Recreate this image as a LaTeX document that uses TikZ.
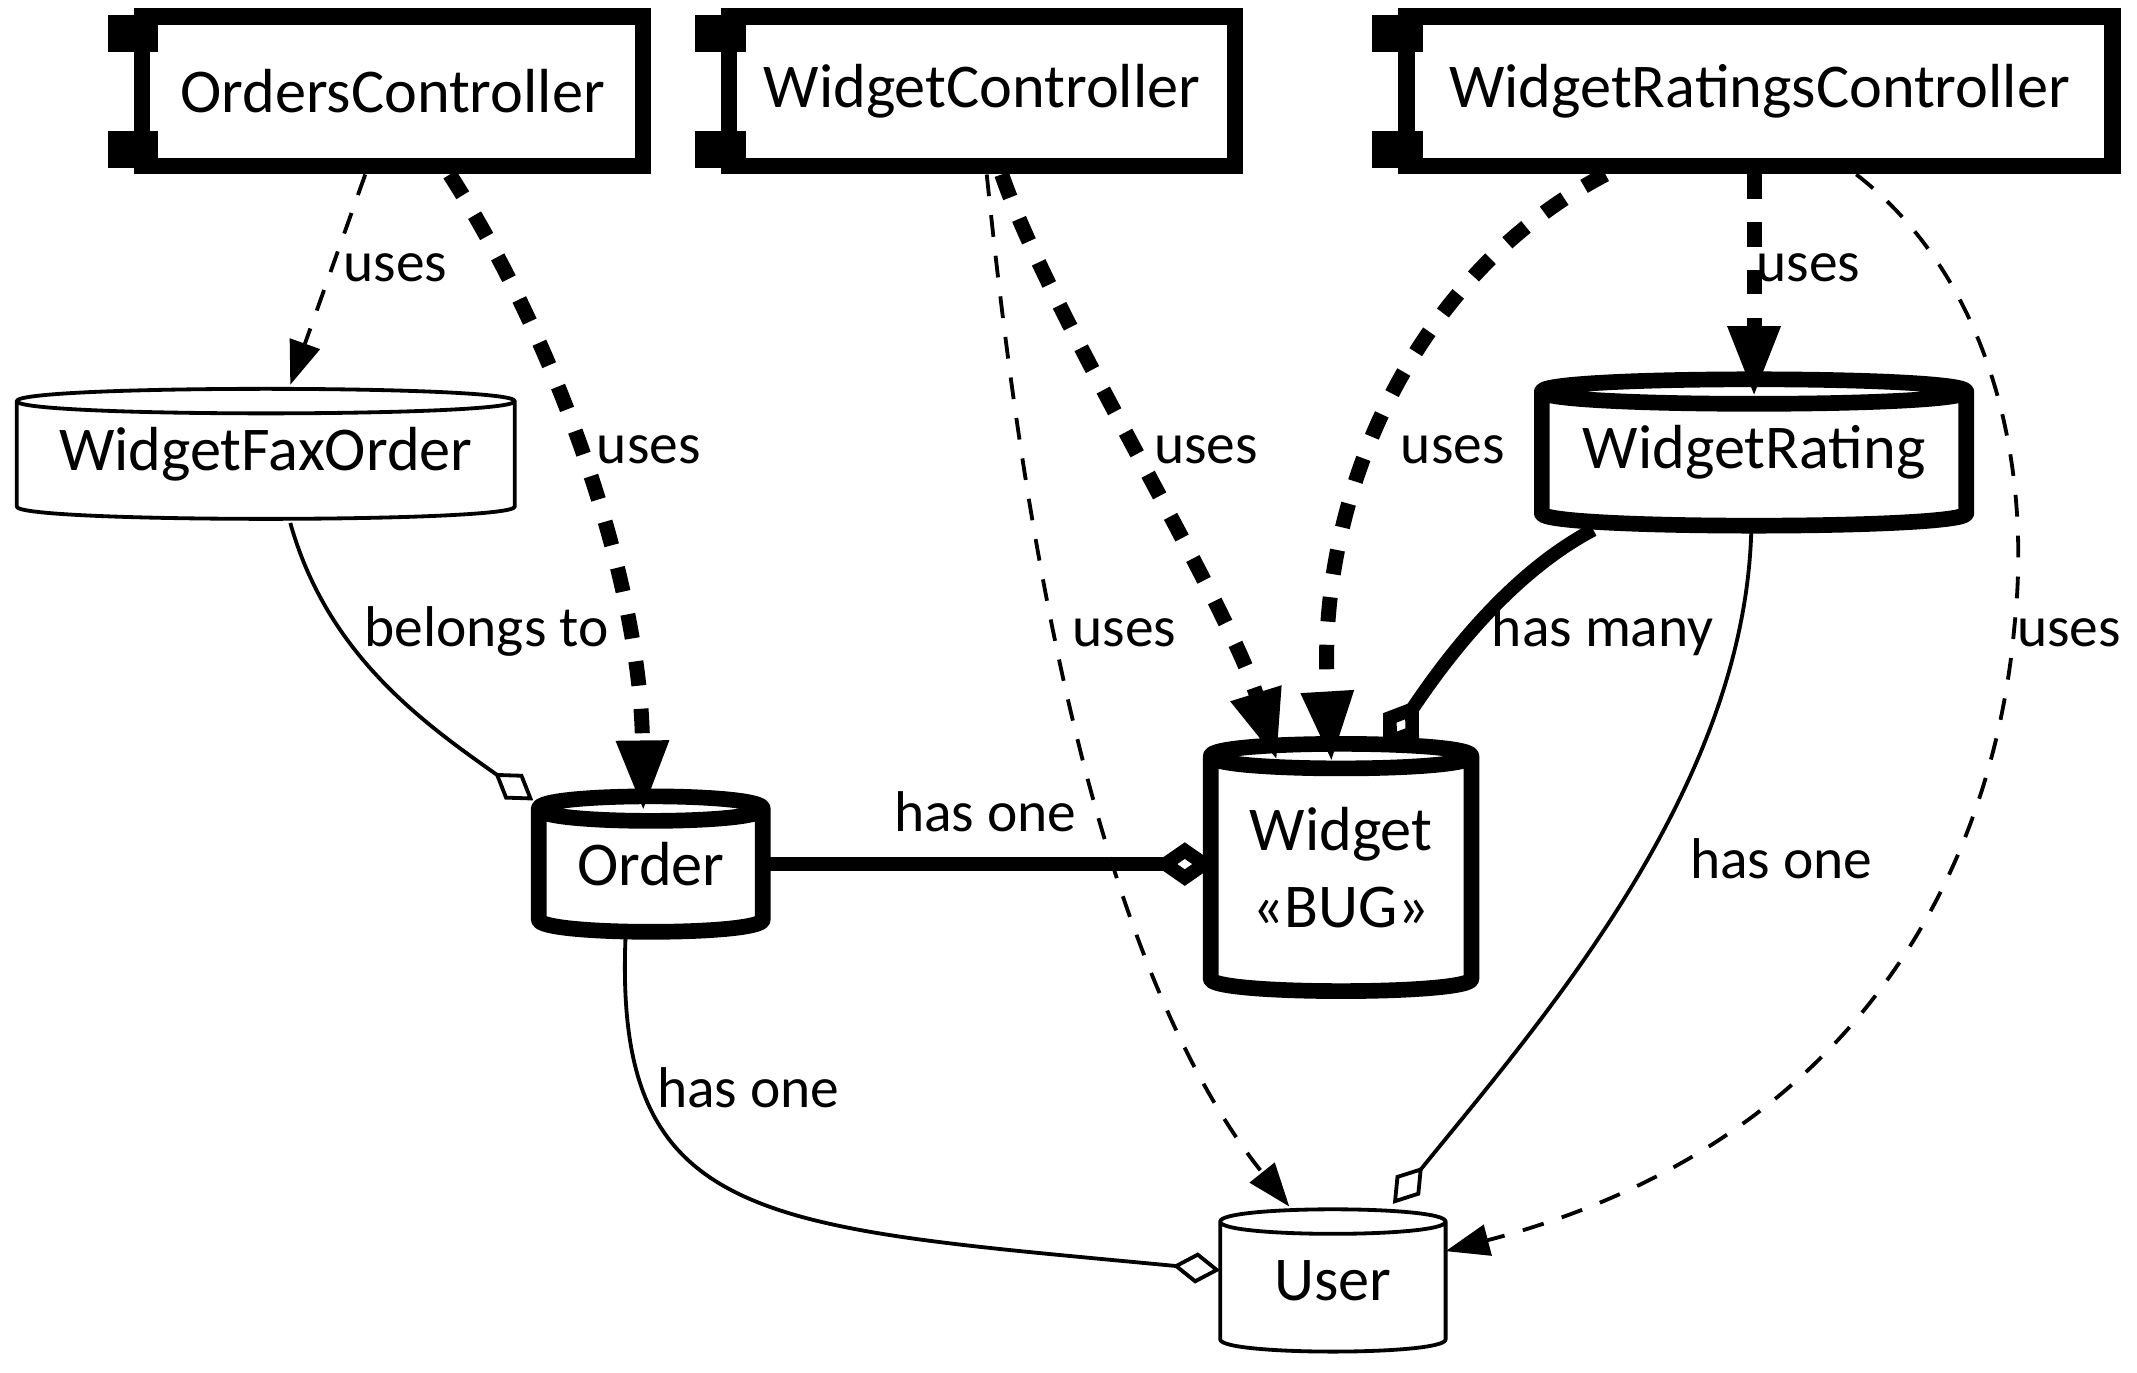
\documentclass[tikz,border=0pt]{standalone}
\usepackage{fontspec}
\setmainfont{Carlito}
\usetikzlibrary{arrows.meta}
\newcommand\nodefont{\fontsize{13}{16}\selectfont}
\newcommand\lblfont{\fontsize{12}{14}\selectfont}
\newlength\capd \setlength\capd{1.2mm}
\newlength\capdd \setlength\capdd{2.4mm}
% cilindro disegnato intorno a un nodo
\newcommand\dbshape[2]{%
  \draw[#1] ([yshift=-\capd]#2.north west)
    .. controls (#2.north west) and (#2.north east) .. ([yshift=-\capd]#2.north east)
    -- ([yshift=\capd]#2.south east)
    .. controls (#2.south east) and (#2.south west) .. ([yshift=\capd]#2.south west)
    -- cycle
    ([yshift=-\capd]#2.north west)
    .. controls ([yshift=-\capdd]#2.north west) and ([yshift=-\capdd]#2.north east)
    .. ([yshift=-\capd]#2.north east);}
% linguette del componente
\newcommand\comptabs[1]{%
  \fill ([shift={(-1.9mm,-0.5mm)}]#1.north west) rectangle ++(3.7mm,-2.7mm);
  \fill ([shift={(-1.9mm,0.5mm)}]#1.south west) rectangle ++(3.7mm,2.7mm);}
\tikzset{
  % controller
  comp/.style={draw, line width=1.2mm, fill=white, minimum height=1.1cm,
    inner sep=0pt, font=\nodefont},
  % modello (cilindro)
  dbnode/.style={inner sep=0pt, align=center, font=\nodefont},
  dbthin/.style={line width=0.28mm, line join=round},
  dbthick/.style={line width=1.15mm, line join=round},
  % dipendenze
  useslink/.style={-{Triangle[length=3.2mm, width=2.3mm]}, line width=0.28mm,
    dash pattern=on 1.6mm off 1.4mm},
  usesbold/.style={-{Triangle[length=5.2mm, width=3.6mm]}, line width=1.1mm,
    dash pattern=on 1.8mm off 1.7mm},
  % associazioni
  hasthin/.style={-{Diamond[open, length=3.5mm, width=2.3mm]}, line width=0.28mm},
  hasbold/.style={-{Diamond[open, length=4.6mm, width=3.2mm]}, line width=1mm},
  % etichette
  lbl/.style={font=\lblfont, text height=1.5ex, text depth=0.5ex, inner sep=0pt},
}
\begin{document}
\begin{tikzpicture}
  \fill[white] (0,0) rectangle (15.68,-10.07);
  % controller
  \node[comp, minimum width=3.68cm] (oc) at (2.88,-0.67) {OrdersController};
  \node[comp, minimum width=3.71cm] (wc) at (7.205,-0.67) {WidgetController};
  \node[comp, minimum width=5.18cm] (wrc) at (12.91,-0.67) {WidgetRatingsController};
  \foreach \c in {oc,wc,wrc} { \comptabs{\c} }
  % modelli
  \node[dbnode, minimum width=3.64cm, minimum height=1cm] (wfo) at (1.95,-3.33) {WidgetFaxOrder};
  \node[dbnode, minimum width=1.63cm, minimum height=1.04cm] (order) at (4.775,-6.34) {Order};
  \node[dbnode, minimum width=1.9cm, minimum height=1.86cm] (widget) at (9.84,-6.365) {Widget\\«BUG»};
  \node[dbnode, minimum width=3.1cm, minimum height=1.12cm] (wr) at (12.87,-3.32) {WidgetRating};
  \node[dbnode, minimum width=1.64cm, minimum height=1.09cm] (user) at (9.78,-9.395) {User};
  \dbshape{dbthin}{wfo}
  \dbshape{dbthick}{order}
  \dbshape{dbthick}{widget}
  \dbshape{dbthick}{wr}
  \dbshape{dbthin}{user}
  % uses
  \draw[useslink] ([xshift=-2mm]oc.south) -- ([xshift=1.8mm]wfo.north);
  \draw[usesbold] ([xshift=4.2mm]oc.south) .. controls (4.05,-2.45) and (4.70,-4.20) .. ([shift={(-0.55mm,-1.4mm)}]order.north);
  \draw[usesbold] ([xshift=1.45mm]wc.south) .. controls (7.70,-2.30) and (9.00,-4.40) .. ([shift={(-4.7mm,-1.55mm)}]widget.north);
  \draw[useslink] ([xshift=0.35mm]wc.south) .. controls (7.45,-3.30) and (7.90,-6.90) .. ([shift={(-3.2mm,-0.1mm)}]user.north);
  \draw[usesbold] ([xshift=-11.3mm]wrc.south) .. controls (10.40,-2.00) and (9.65,-3.60) .. ([shift={(-0.7mm,-1.65mm)}]widget.north);
  \draw[usesbold] (wrc.south -| wr.north) -- ([yshift=-1.6mm]wr.north);
  \draw[useslink] ([xshift=7.1mm]wrc.south) .. controls (14.55,-2.00) and (14.92,-3.30) .. (14.78,-4.60)
    .. controls (14.62,-6.40) and (13.60,-8.40) .. ([yshift=2.15mm]user.east);
  % has / belongs
  \draw[hasthin] ([xshift=1.8mm]wfo.south) .. controls (2.40,-4.80) and (3.10,-5.30) .. ([shift={(-0.4mm,-0.6mm)}]order.north west);
  \draw[hasbold] (order.east) -- ([xshift=0.4mm]order.east -| widget.west);
  \draw[hasbold] ([xshift=-11.8mm]wr.south) .. controls (11.00,-4.25) and (10.50,-5.00) .. ([shift={(3.1mm,-0.85mm)}]widget.north);
  \draw[hasthin] ([xshift=-0.2mm]wr.south) .. controls (12.80,-5.80) and (11.30,-7.50) .. ([shift={(4.4mm,0.1mm)}]user.north);
  \draw[hasthin] ([xshift=-1.85mm]order.south) .. controls (4.50,-9.00) and (5.60,-9.00) .. ([yshift=0.75mm]user.west);
  % etichette
  \node[lbl] (l1) at (2.90,-1.98) {uses};
  \node[lbl] (l2) at (4.76,-3.32) {uses};
  \node[lbl] (l3) at (8.85,-3.32) {uses};
  \node[lbl] (l4) at (8.25,-4.66) {uses};
  \node[lbl] (l5) at (10.66,-3.32) {uses};
  \node[lbl] (l6) at (13.27,-1.98) {uses};
  \node[lbl] (l7) at (15.18,-4.66) {uses};
  \node[lbl] (l8) at (3.57,-4.66) {belongs to};
  \node[lbl] (l9) at (11.76,-4.66) {has many};
  \node[lbl] (l10) at (7.23,-6.02) {has one};
  \node[lbl] (l11) at (13.07,-6.36) {has one};
  \node[lbl] (l12) at (5.49,-8.04) {has one};
\end{tikzpicture}
\end{document}
